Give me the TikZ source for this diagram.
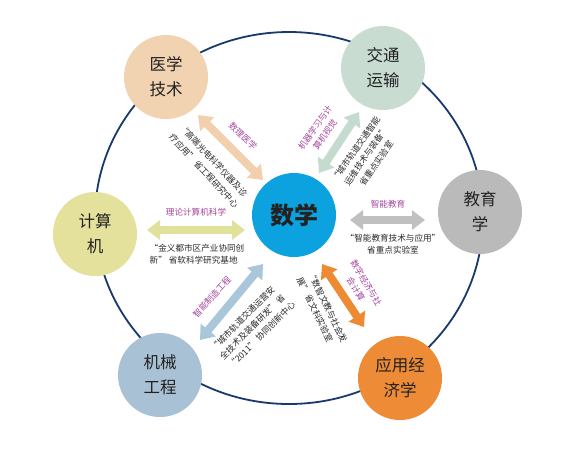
\documentclass[tikz,border=0pt]{standalone}
\usepackage{fontspec}
\setmainfont{Noto Sans CJK SC}
\usetikzlibrary{arrows.meta}
\definecolor{ringc}{HTML}{17396B}
\definecolor{cpeach}{HTML}{F1D2B1}
\definecolor{csage}{HTML}{C8DCD2}
\definecolor{cgray}{HTML}{BABABB}
\definecolor{cblue}{HTML}{0CA2DF}
\definecolor{cyellow}{HTML}{E3E19B}
\definecolor{csteel}{HTML}{A8C1D5}
\definecolor{corange}{HTML}{EE8B36}
\definecolor{apeach}{HTML}{F2D0AE}
\definecolor{asage}{HTML}{C6DBD0}
\definecolor{agray}{HTML}{C0C0C0}
\definecolor{ayellow}{HTML}{E0E29C}
\definecolor{asteel}{HTML}{AAC6DA}
\definecolor{aorange}{HTML}{EE8A33}
\definecolor{purp}{HTML}{A4449C}
\definecolor{darkt}{HTML}{2A2A2A}
\definecolor{labelc}{HTML}{222222}
\begin{document}
\begin{tikzpicture}[x=1pt,y=-1pt,
  ring/.style={draw=ringc,line width=1.8pt},
  ball/.style={circle,minimum size=84pt,inner sep=0pt,align=center,
    font=\fontsize{16.5}{25}\selectfont,text=labelc},
  biarrow/.style={line width=8pt,
    {Triangle[width=19pt,length=13pt]}-{Triangle[width=19pt,length=13pt]}},
  topic/.style={font=\fontsize{8.6}{12}\selectfont,text=purp,align=center,inner sep=0pt},
  lab/.style={font=\fontsize{8.6}{12.5}\selectfont,text=darkt,inner sep=0pt}]
\useasboundingbox (0,0) rectangle (585,475);
\fill[white] (0,0) rectangle (585,475);
\draw[ring] (289,218) ellipse [x radius=194, y radius=186];
% nodes
\node[ball,fill=cpeach] (yixue) at (166,77) {医学\\技术};
\node[ball,fill=csage] (jiaotong) at (383,68) {交通\\运输};
\node[ball,fill=cgray] (jiaoyu) at (480,212) {教育\\学};
\node[ball,fill=cblue,font=\fontsize{24}{28}\selectfont\bfseries] (shuxue) at (294,215) {数学};
\node[ball,fill=cyellow] (jisuanji) at (95,234) {计算\\机};
\node[ball,fill=csteel] (jixie) at (160,375) {机械\\工程};
\node[ball,fill=corange] (yingyong) at (400,378) {应用经\\济学};
% arrow end points
\coordinate (a1s) at (198,115); \coordinate (a1e) at (263,180);
\coordinate (a2s) at (359,112); \coordinate (a2e) at (319,173);
\coordinate (a3s) at (350,220); \coordinate (a3e) at (425,220);
\coordinate (a4s) at (147,230); \coordinate (a4e) at (245,230);
\coordinate (a5s) at (263,264); \coordinate (a5e) at (200,340);
\coordinate (a6s) at (322,264); \coordinate (a6e) at (364,327);
\draw[biarrow,apeach] (a1s) -- (a1e);
\draw[biarrow,asage] (a2s) -- (a2e);
\draw[biarrow,agray] (a3s) -- (a3e);
\draw[biarrow,ayellow] (a4s) -- (a4e);
\draw[biarrow,asteel] (a5s) -- (a5e);
\draw[biarrow,aorange] (a6s) -- (a6e);
% labels
\node[topic,rotate=-43] (t1) at (243,136) {数理医学};
\node[lab,rotate=-47,align=left,font=\fontsize{8.6}{14}\selectfont] (l1) at (209,166) {“高端光电科学仪器及诊\\疗应用”\ 省工程研究中心};
\node[topic,rotate=55] (t2) at (320,131) {机器学习与计\\算机视觉};
\node[lab,rotate=55,align=center] (l2) at (366,156) {“城市轨道交通智能\\运维技术与装备”\\省重点实验室};
\node[topic] (t3) at (388,204) {智能教育};
\node[lab,align=center,font=\fontsize{8.6}{12}\selectfont] (l3) at (393,244) {“智能教育技术与应用”\\省重点实验室};
\node[topic] (t4) at (196,212) {理论计算机科学};
\node[lab,align=left,font=\fontsize{8.6}{11.5}\selectfont] (l4) at (197,254) {“金义都市区产业协同创\\新”\ 省软科学研究基地};
\node[topic,rotate=48] (t5) at (212,297) {智能制造工程};
\node[lab,rotate=45,align=left] (l5) at (253,326) {“城市轨道交通运营安\\全技术及装备研发”\ 省\\“2011”\ 协同创新中心};
\node[topic,rotate=-59] (t6) at (361,286) {数字经济与社\\会计算};
\node[lab,rotate=-64,align=left] (l6) at (322,310) {“数智文教与社会发\\展”\ 省文科实验室};
\end{tikzpicture}
\end{document}
